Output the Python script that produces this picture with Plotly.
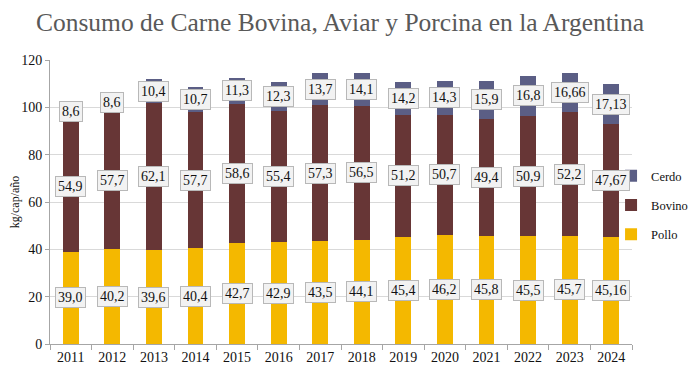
import plotly.graph_objects as go

years = ["2011", "2012", "2013", "2014", "2015", "2016", "2017", "2018", "2019", "2020", "2021", "2022", "2023", "2024"]
pollo = [39.0, 40.2, 39.6, 40.4, 42.7, 42.9, 43.5, 44.1, 45.4, 46.2, 45.8, 45.5, 45.7, 45.16]
bovino = [54.9, 57.7, 62.1, 57.7, 58.6, 55.4, 57.3, 56.5, 51.2, 50.7, 49.4, 50.9, 52.2, 47.67]
cerdo = [8.6, 8.6, 10.4, 10.7, 11.3, 12.3, 13.7, 14.1, 14.2, 14.3, 15.9, 16.8, 16.66, 17.13]

FONT = "Liberation Serif"
colors = {"Pollo": "#f4b800", "Bovino": "#673636", "Cerdo": "#5b5e85"}
ranks = {"Cerdo": 1, "Bovino": 2, "Pollo": 3}

fig = go.Figure()
for name, vals in [("Pollo", pollo), ("Bovino", bovino), ("Cerdo", cerdo)]:
    fig.add_trace(go.Bar(x=years, y=vals, name=name, marker_color=colors[name],
                         marker_line_width=0, legendgroup=name, legendrank=ranks[name]))

def fmt(v):
    return str(v).replace(".", ",")

annotations = []
for i, y in enumerate(years):
    base = 0
    for vals in (pollo, bovino, cerdo):
        v = vals[i]
        annotations.append(dict(
            x=i, y=base + v / 2, xref="x", yref="y", text=fmt(v), showarrow=False,
            font=dict(family=FONT, size=14, color="#111111"),
            bgcolor="#f2f2f2", bordercolor="#b8b8b8", borderwidth=1, borderpad=2,
        ))
        base += v

fig.update_layout(
    barmode="stack",
    bargap=0.62,
    width=681, height=362,
    margin=dict(l=42, r=57, t=52, b=26, autoexpand=False),
    paper_bgcolor="white", plot_bgcolor="white",
    title=dict(text="Consumo de Carne Bovina, Aviar y Porcina en la Argentina",
               x=0.4875, xanchor="center", y=0.962, yanchor="middle",
               font=dict(family=FONT, size=25.5, color="#595959")),
    font=dict(family=FONT, size=13, color="#111111"),
    legend=dict(x=0.964, xanchor="left", y=0.489, yanchor="middle",
                traceorder="grouped", font=dict(family=FONT, size=12.5),
                itemwidth=30, tracegroupgap=10, bgcolor="rgba(0,0,0,0)"),
    annotations=annotations,
    xaxis=dict(type="category", showline=True, linecolor="#a6a6a6", linewidth=1,
               ticks="outside", tickson="boundaries", ticklen=5, tickcolor="#a6a6a6",
               tickfont=dict(family=FONT, size=14), showgrid=False, tickangle=0),
    yaxis=dict(range=[0, 120], dtick=20, showline=True, linecolor="#a6a6a6", linewidth=1,
               ticks="outside", ticklen=4, tickcolor="#a6a6a6",
               gridcolor="#d9d9d9", gridwidth=1,
               tickfont=dict(family=FONT, size=14),
               title=dict(text="kg/cap/año", font=dict(family=FONT, size=12), standoff=10)),
)

fig.write_html("out.html")
